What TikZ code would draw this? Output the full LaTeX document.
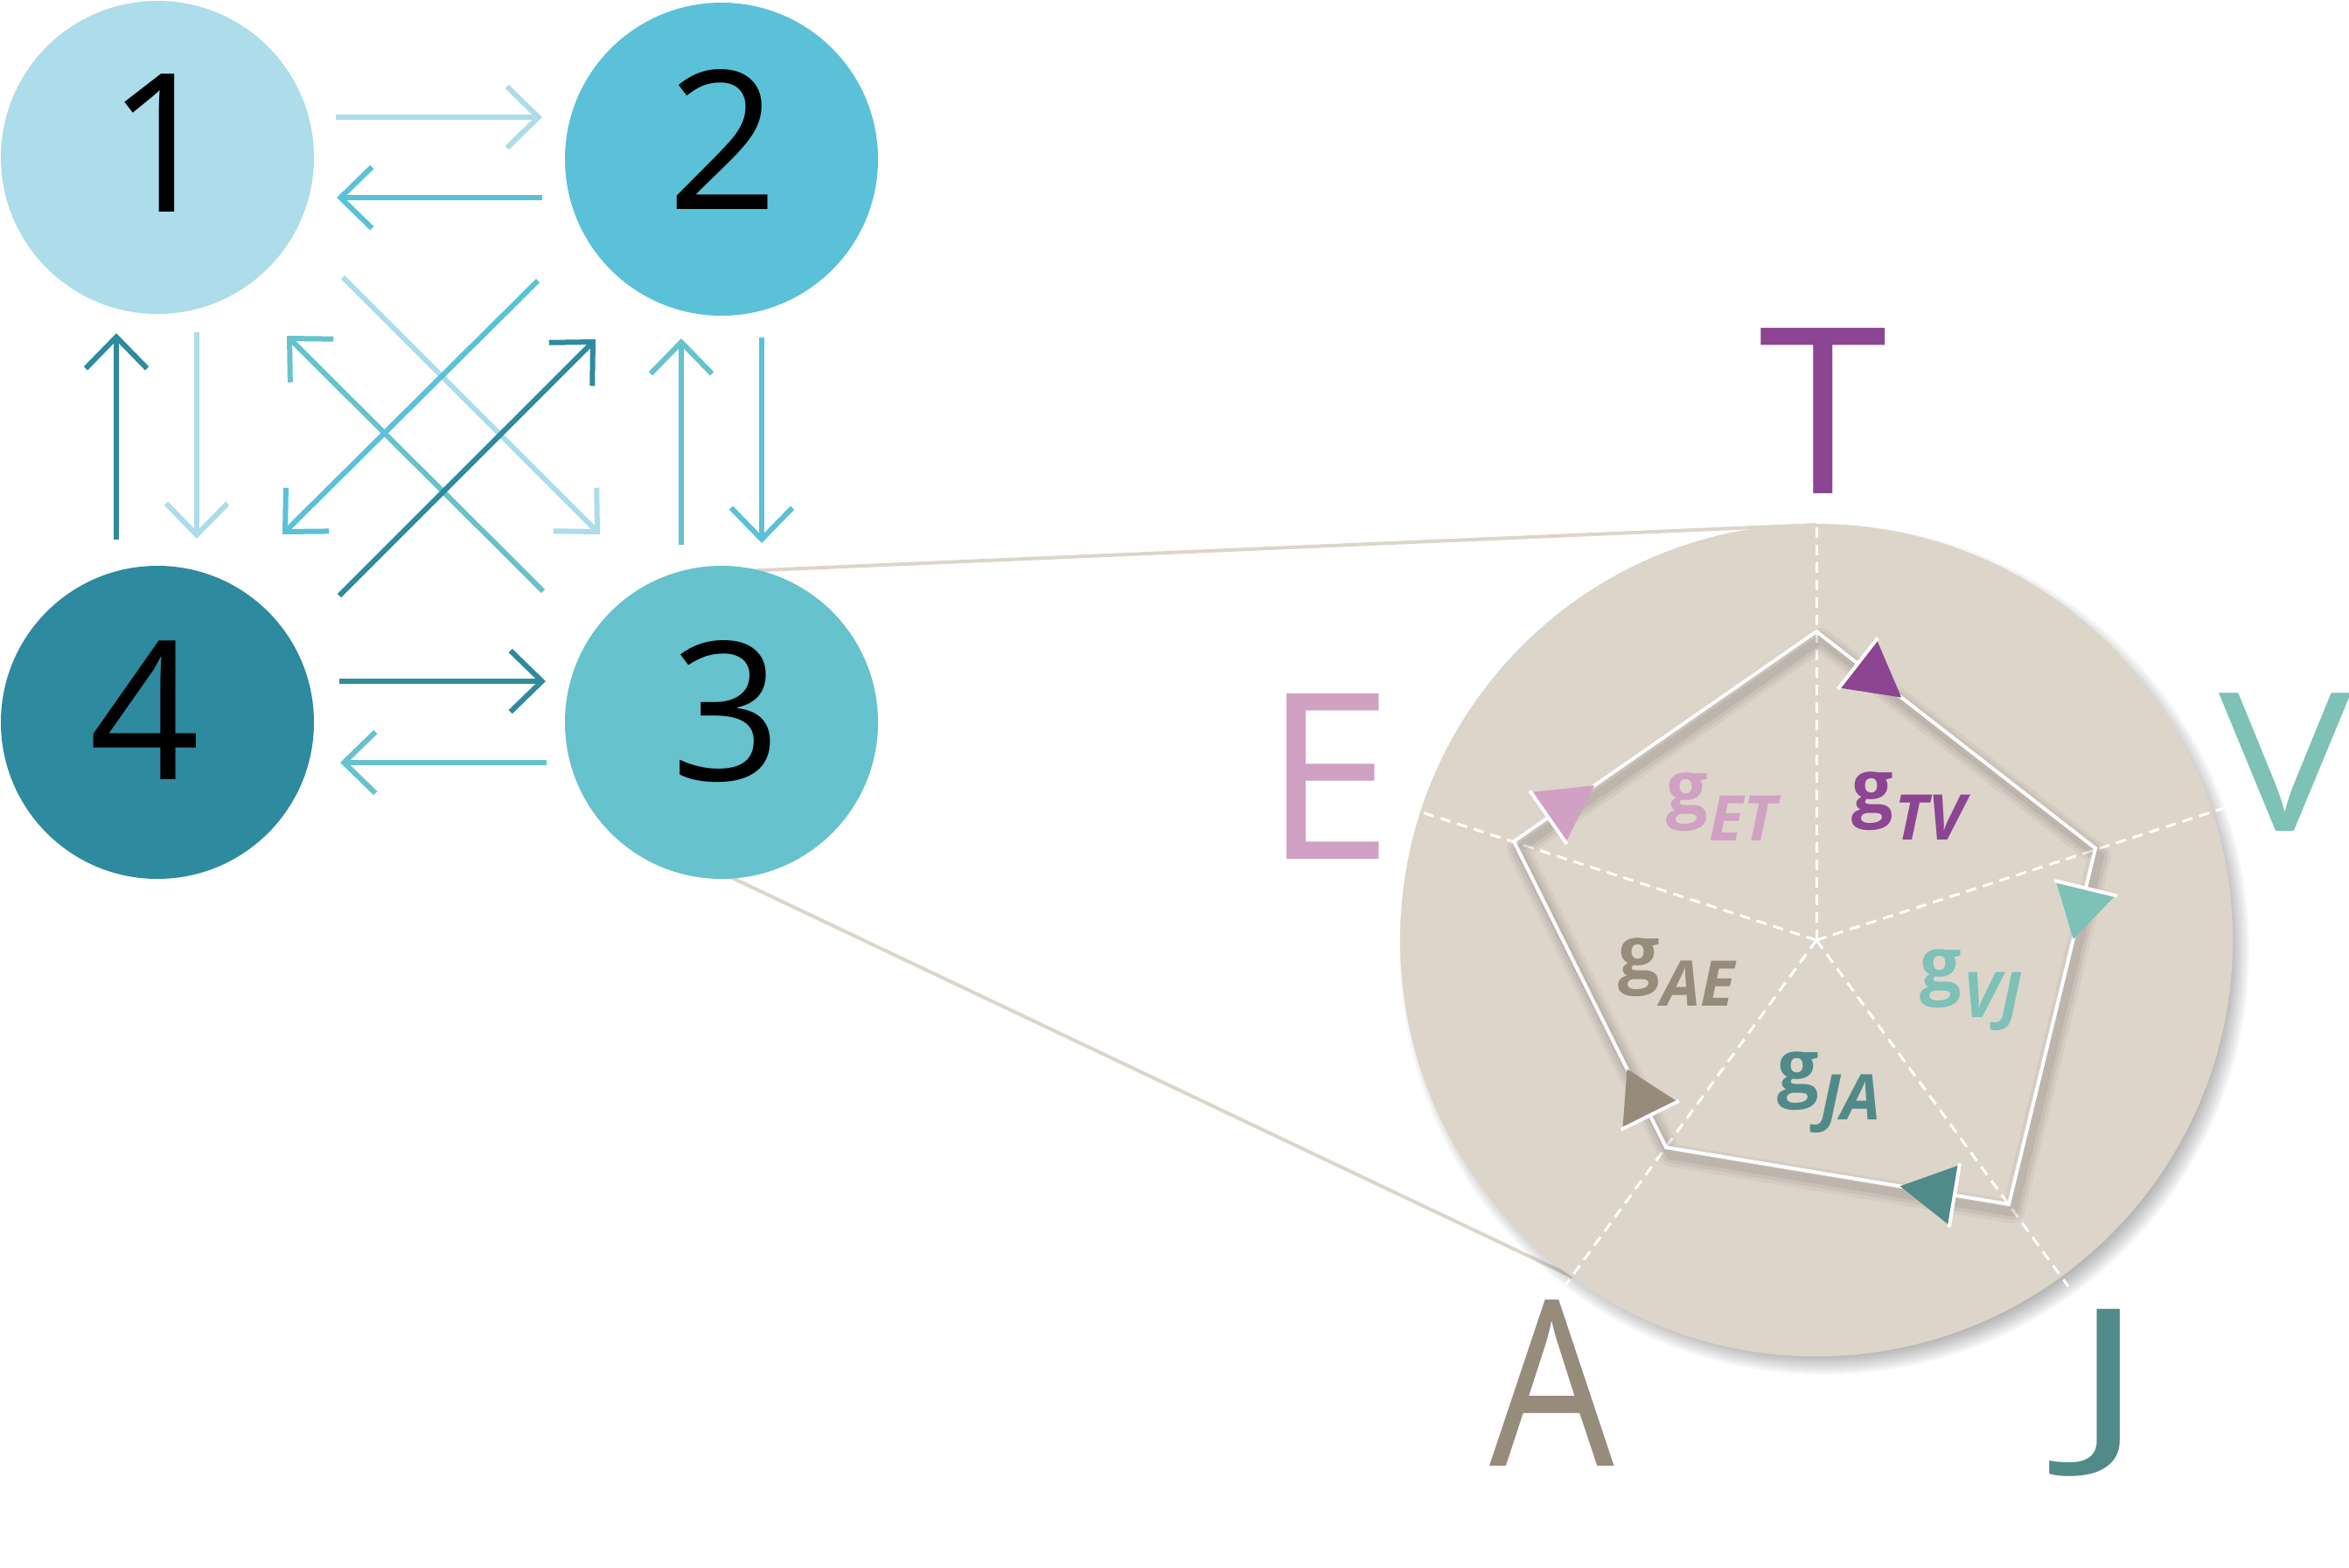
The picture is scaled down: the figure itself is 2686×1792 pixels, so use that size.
\documentclass[tikz,border=0pt]{standalone}
\usepackage{graphicx}
\usepackage{fontspec}
\setmainfont{Open Sans}
\usetikzlibrary{arrows.meta,calc}

\definecolor{cOne}{HTML}{ADDCEB}
\definecolor{cTwo}{HTML}{5BC1D8}
\definecolor{cThree}{HTML}{66C2CD}
\definecolor{cFour}{HTML}{2E8A9E}
\definecolor{lensfill}{HTML}{DDD5C9}
\definecolor{colT}{HTML}{8B4593}
\definecolor{colE}{HTML}{D0A1C3}
\definecolor{colV}{HTML}{7DC1B7}
\definecolor{colA}{HTML}{978B7C}
\definecolor{colJ}{HTML}{508B8A}

\pgfdeclarelayer{back}
\pgfsetlayers{back,main}

\tikzset{
  state/.style={circle, minimum size=358pt, inner sep=0pt, draw=none},
  digit/.style={anchor=base, inner sep=0pt, font=\fontsize{221}{221}\selectfont},
  flow/.style={line width=6pt,
    -{Straight Barb[length=36pt,width=70pt,line cap=butt,line join=miter]}},
  axis/.style={white, line width=3pt, dash pattern=on 12pt off 8pt},
  bigletter/.style={anchor=base, inner sep=0pt, font=\fontsize{265}{265}\selectfont},
  glabel/.style={anchor=base west, inner sep=0pt, font=\fontsize{84}{84}\selectfont\bfseries},
  tie/.style={draw=lensfill, line width=4pt},
  edgeline/.style={white, line width=4pt, line join=miter},
  pentshadow/.style={black, line join=round},
}

% coloured arrow head sitting on a pentagon edge, with a white bar on its base
\newcommand\flowtip[5]{%
  \coordinate (fb) at ($(#1)!#3pt!(#2)$);
  \fill[#5] ($(fb)!35pt!90:(#2)$) -- ($(#1)!#4pt!(#2)$) -- ($(fb)!35pt!-90:(#2)$) -- cycle;
  \draw[white, line width=4pt] ($(fb)!37pt!90:(#2)$) -- ($(fb)!37pt!-90:(#2)$);
}
% g with a lowered italic pair of indices
\newcommand\gsub[1]{g\kern2pt\raisebox{-31pt}{\fontsize{72}{72}\selectfont\bfseries\itshape #1}}

\begin{document}
\begin{tikzpicture}[x=1pt, y=-1pt]
\useasboundingbox (0,0) rectangle (2686,1792);

% ---- four states ----
\node[state, fill=cOne]   (n1) at (180,180) {};
\node[state, fill=cTwo]   (n2) at (825,182) {};
\node[state, fill=cThree] (n3) at (825,826) {};
\node[state, fill=cFour]  (n4) at (180,826) {};

\node[digit] (d1) at ($(n1)+(6,62)$) {1};
\node[digit] (d2) at ($(n2)+(2,57)$) {2};
\node[digit] (d3) at ($(n3)+(6,66)$) {3};
\node[digit] (d4) at ($(n4)+(-14,65)$) {4};

% ---- transitions ----
\draw[flow, cOne]   ($(n1)+(204,-46)$)  -- ($(n2)+(-205,-48)$);
\draw[flow, cTwo]   ($(n2)+(-205,44)$)  -- ($(n1)+(205,46)$);
\draw[flow, cOne]   ($(n1)+(45,200)$)   -- ($(n4)+(45,-210)$);
\draw[flow, cFour]  ($(n4)+(-47,-209)$) -- ($(n1)+(-47,201)$);
\draw[flow, cTwo]   ($(n2)+(46,204)$)   -- ($(n3)+(46,-205)$);
\draw[flow, cThree] ($(n3)+(-46,-203)$) -- ($(n2)+(-46,205)$);
\draw[flow, cFour]  ($(n4)+(208,-47)$)  -- ($(n3)+(-201,-47)$);
\draw[flow, cThree] ($(n3)+(-200,46)$)  -- ($(n4)+(209,46)$);
\draw[flow, cOne]   ($(n1)+(212,137)$)  -- ($(n3)+(-139,-215)$);
\draw[flow, cThree] ($(n3)+(-204,-150)$) -- ($(n1)+(148,204)$);
\draw[flow, cTwo]   ($(n2)+(-210,139)$) -- ($(n4)+(143,-215)$);
\draw[flow, cFour]  ($(n4)+(208,-145)$) -- ($(n2)+(-144,206)$);

% ---- magnified view of state 3 ----
\coordinate (tieT) at (2077,600);
\coordinate (tieA) at (1798,1460);
\begin{pgfonlayer}{back}
  \draw[tie] ($(n3)+(0,-172)$) -- (tieT);
  \draw[tie] ($(n3)+(0,172)$) -- (tieA);
\end{pgfonlayer}

\foreach \k in {0,...,12}
  \fill[black, opacity=0.026] (2086,1086) circle[radius=462+2*\k];

\node[circle, fill=lensfill, minimum size=952pt, inner sep=0pt] (lens) at (2077,1075) {};

% dashed axes
\coordinate (c)  at (2077,1075);
\coordinate (eT) at (2077,585);
\coordinate (eV) at (2543,924);
\coordinate (eJ) at (2365,1471);
\coordinate (eA) at (1789,1471);
\coordinate (eE) at (1611,924);
\foreach \e in {eT,eV,eJ,eA,eE} \draw[axis] (c) -- (\e);

% pentagon of couplings
\coordinate (pT) at (2077,722);
\coordinate (pV) at (2396,970);
\coordinate (pJ) at (2297,1377);
\coordinate (pA) at (1905,1312);
\coordinate (pE) at (1731,962);

\foreach \w/\o in {26/0.04, 18/0.05, 10/0.06}
  \draw[pentshadow, opacity=\o, line width=\w pt, shift={(5,9)}]
    (2077,722) -- (2396,970) -- (2297,1377) -- (1905,1312) -- (1731,962) -- cycle;

\draw[edgeline] (pT) -- (pV) -- (pJ) -- (pA) -- (pE) -- cycle;

\flowtip{pT}{pV}{60}{123}{colT}
\flowtip{pV}{pJ}{47}{107}{colV}
\flowtip{pJ}{pA}{63}{126}{colJ}
\flowtip{pA}{pE}{41}{100}{colA}
\flowtip{pE}{pT}{48}{112}{colE}

% coupling labels
\node[glabel, text=colE] (gET) at (1905,930)  {\gsub{ET}};
\node[glabel, text=colT] (gTV) at (2117,929)  {\gsub{TV}};
\node[glabel, text=colA] (gAE) at (1850,1119) {\gsub{AE}};
\node[glabel, text=colV] (gVJ) at (2195,1132) {\gsub{VJ}};
\node[glabel, text=colJ] (gJA) at (2032,1249) {\gsub{JA}};

% corner letters
\node[bigletter, text=colT] (lT) at (2085,564)  {T};
\node[bigletter, text=colE] (lE) at (1519,982)  {E};
\node[bigletter, text=colV, font=\fontsize{221}{221}\selectfont] (lV) at (2613,950) {\scalebox{1.15}[1]{V}};
\node[bigletter, text=colA] (lA) at (1775,1676) {\scalebox{0.85}[1]{A}};
\node[bigletter, text=colJ] (lJ) at (2411,1648) {\scalebox{1.2}[0.8]{J}};
\end{tikzpicture}
\end{document}
